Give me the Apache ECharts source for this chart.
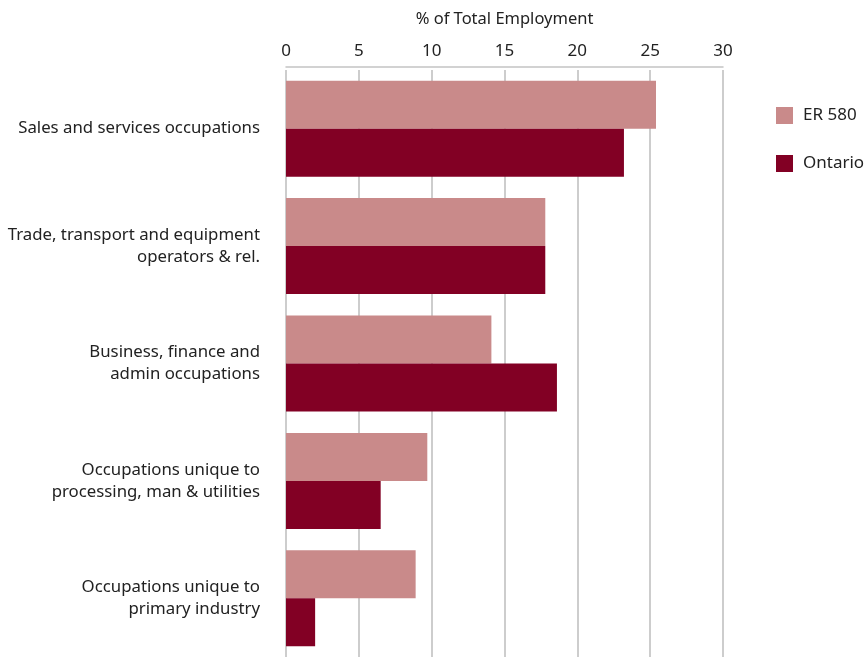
<!DOCTYPE html>
<html>
<head>
<meta charset="utf-8">
<script src="https://cdn.jsdelivr.net/npm/echarts@6/dist/echarts.min.js"></script>
<style>
  html, body { margin: 0; padding: 0; background: #fff; }
  #chart { width: 866px; height: 658px; }
</style>
</head>
<body>
<div id="chart"></div>
<script>
// Occupation groups, listed top to bottom
const categories = [
  'Sales and services occupations',
  'Trade, transport and equipment\noperators & rel.',
  'Business, finance and\nadmin occupations',
  'Occupations unique to\nprocessing, man & utilities',
  'Occupations unique to\nprimary industry'
];
// Share of total employment (%)
const er580 = [25.4, 17.8, 14.1, 9.7, 8.9];
const ontario = [23.2, 17.8, 18.6, 6.5, 2.0];
const xTicks = [0, 5, 10, 15, 20, 25, 30];

const FONT = '"Noto Sans", "DejaVu Sans", sans-serif';
const chart = echarts.init(document.getElementById('chart'), null, { renderer: 'canvas' });

chart.setOption({
  animation: false,
  textStyle: { fontFamily: FONT },
  legend: {
    orient: 'vertical',
    left: 771,
    top: 102,
    itemWidth: 17,
    itemHeight: 17,
    itemGap: 31,
    icon: 'rect',
    textStyle: { fontSize: 17, color: '#222', fontFamily: FONT, padding: [0, 0, 0, 5] },
    data: ['ER 580', 'Ontario']
  },
  grid: { left: 286, top: 70, width: 437, height: 587, outerBoundsMode: 'none' },
  xAxis: {
    type: 'value',
    position: 'top',
    offset: 3,
    min: xTicks[0],
    max: xTicks[xTicks.length - 1],
    interval: 5,
    name: '% of Total Employment',
    nameLocation: 'middle',
    nameGap: 39,
    nameTextStyle: { fontSize: 16.5, color: '#222', fontFamily: FONT },
    axisLine: { show: true, lineStyle: { color: '#c4c4c4', width: 1.5 } },
    axisTick: { show: false },
    axisLabel: { fontSize: 17, color: '#222', margin: 7, fontFamily: FONT },
    splitLine: { show: true, lineStyle: { color: '#bdbdbd', width: 1.5 } }
  },
  yAxis: {
    type: 'category',
    inverse: true,
    data: categories,
    axisLine: { show: false },
    axisTick: { show: false },
    axisLabel: {
      fontSize: 16.8,
      color: '#222',
      margin: 26,
      lineHeight: 22,
      align: 'right',
      fontFamily: FONT
    }
  },
  series: [
    {
      name: 'ER 580',
      type: 'bar',
      data: er580,
      barWidth: 48,
      barGap: '0%',
      itemStyle: { color: '#c98a8a' }
    },
    {
      name: 'Ontario',
      type: 'bar',
      data: ontario,
      barWidth: 48,
      barGap: '0%',
      itemStyle: { color: '#820024' }
    }
  ]
});
</script>
</body>
</html>
